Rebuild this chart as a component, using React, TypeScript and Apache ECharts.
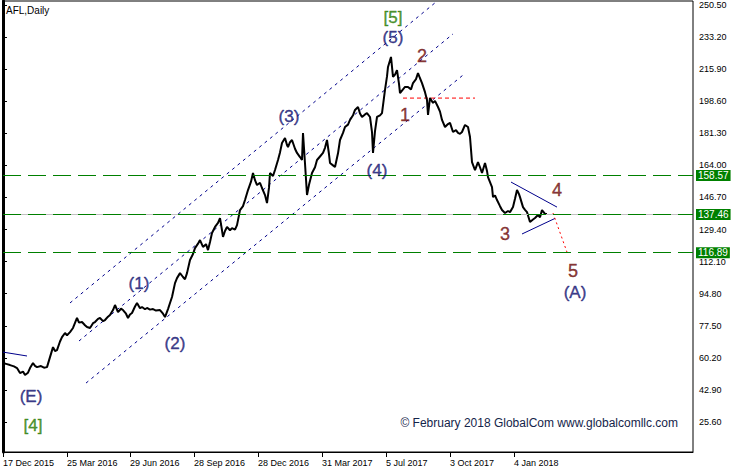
import React, { useEffect, useRef } from "react";
import * as echarts from "echarts";

const chartTitle = "AFL,Daily";
const copyrightText = "© February 2018 GlobalCom www.globalcomllc.com";

// bar index of each date tick (1 bar = 1 trading day)
const dateTickIndex = [0, 64, 127, 191, 255, 319, 383, 447, 511];
const dateTickLabels = [
  "17 Dec 2015",
  "25 Mar 2016",
  "29 Jun 2016",
  "28 Sep 2016",
  "28 Dec 2016",
  "31 Mar 2017",
  "5 Jul 2017",
  "3 Oct 2017",
  "4 Jan 2018",
];
const priceTicks = [250.5, 233.2, 215.9, 198.6, 181.3, 164.0, 146.7, 129.4, 112.1, 94.8, 77.5, 60.2, 42.9, 25.6];

// [bar index, price]
const closePoints: [number, number][] = [
  [0, 57.4], [4, 56.8], [7, 56.3], [11, 55.6], [14, 54.7], [17, 52.0], [20, 52.8], [22, 50.9], [25, 52.2],
  [27, 54.7], [30, 57.4], [32, 55.9], [34, 55.2], [38, 55.8], [41, 54.9], [44, 55.2], [47, 60.6], [50, 66.0],
  [52, 63.9], [54, 64.4], [57, 69.0], [59, 71.4], [62, 73.6], [64, 72.4], [67, 74.1], [70, 76.3], [72, 79.0],
  [74, 81.7], [76, 79.2], [79, 79.5], [82, 77.8], [84, 76.8], [87, 76.3], [90, 78.9], [92, 79.5], [95, 81.2],
  [97, 81.7], [100, 80.0], [102, 80.6], [105, 82.4], [107, 83.3], [110, 86.0], [112, 88.7], [115, 84.9],
  [118, 86.7], [120, 86.0], [123, 84.0], [125, 81.7], [127, 83.6], [129, 84.4], [132, 87.9], [134, 89.8],
  [137, 87.0], [139, 87.6], [142, 86.4], [144, 87.1], [147, 86.2], [150, 86.5], [153, 85.7], [157, 86.0],
  [160, 84.0], [162, 82.2], [165, 86.5], [167, 89.8], [169, 93.0], [172, 100.5], [174, 103.2], [177, 105.9],
  [180, 103.8], [182, 102.6], [184, 105.9], [187, 113.0], [190, 116.2], [192, 119.4], [195, 121.8], [197, 123.7],
  [200, 120.0], [203, 121.5], [205, 118.3], [207, 122.7], [209, 127.5], [212, 130.8], [215, 133.0], [217, 135.6],
  [219, 129.0], [220, 125.4], [222, 128.6], [224, 130.8], [227, 129.0], [229, 130.2], [232, 129.4], [234, 131.8],
  [237, 139.9], [240, 142.0], [242, 145.3], [245, 150.7], [248, 155.2], [250, 159.9], [252, 156.0], [254, 153.4],
  [257, 154.6], [259, 151.8], [262, 148.0], [264, 143.7], [266, 152.0], [267, 159.9], [270, 158.3], [272, 161.5],
  [275, 166.9], [277, 171.0], [279, 176.1], [282, 178.8], [284, 175.0], [285, 173.9], [287, 176.5], [289, 177.7],
  [292, 173.0], [294, 170.7], [297, 168.5], [299, 166.9], [300, 181.5], [302, 165.0], [304, 148.0], [306, 153.5],
  [309, 159.9], [312, 163.0], [314, 166.9], [317, 168.8], [320, 170.7], [322, 173.5], [324, 177.7], [326, 170.0],
  [327, 165.3], [330, 164.0], [332, 163.1], [335, 170.5], [337, 177.7], [340, 181.5], [342, 184.7], [345, 186.0],
  [347, 188.5], [350, 191.0], [352, 193.9], [355, 195.5], [357, 192.0], [359, 190.1], [362, 191.5], [364, 192.2],
  [367, 190.1], [369, 182.0], [370, 170.7], [372, 182.5], [374, 190.1], [377, 191.0], [379, 192.2], [382, 204.7],
  [384, 212.0], [385, 217.1], [388, 222.5], [390, 211.7], [392, 213.0], [394, 215.4], [396, 208.0], [397, 203.0],
  [400, 205.0], [402, 206.3], [405, 206.3], [408, 205.0], [410, 208.4], [413, 210.5], [415, 213.8], [417, 211.0],
  [419, 208.4], [422, 203.5], [424, 199.3], [425, 191.2], [427, 200.4], [430, 197.7], [432, 198.8], [435, 195.5],
  [437, 193.0], [439, 188.5], [442, 184.7], [445, 186.3], [447, 186.9], [450, 182.0], [453, 183.0], [455, 181.5],
  [457, 181.0], [459, 182.0], [462, 185.8], [465, 184.7], [467, 179.3], [469, 165.8], [472, 161.5], [475, 165.8],
  [477, 163.0], [479, 159.9], [482, 165.3], [484, 161.0], [485, 157.7], [487, 155.0], [489, 152.3], [490, 146.9],
  [492, 147.8], [494, 145.3], [497, 142.0], [499, 139.9], [502, 138.3], [505, 139.4], [507, 138.8], [510, 141.5],
  [512, 146.0], [514, 150.7], [516, 148.5], [517, 146.9], [520, 141.5], [522, 140.0], [524, 138.8], [527, 133.5],
  [530, 134.8], [532, 135.6], [535, 137.2], [537, 136.0], [539, 139.9], [542, 137.8], [544, 137.8],
];

const levelPrices = [158.57, 137.46, 116.89];
const bidPrice = 137.46;

// annotation lines, [bar index, price]
const channelTop: [number, number][] = [[67, 89.8], [433, 252.1]];
const channelMid: [number, number][] = [[76, 69.3], [450, 234.9]];
const channelLow: [number, number][] = [[83, 46.6], [460, 212.7]];
const leftTrend: [number, number][] = [[0, 63.3], [24, 61.2]];
const wave1Level: [number, number][] = [[400, 200.3], [472, 200.3]];
const triangleTop: [number, number][] = [[508, 155.0], [554, 141.5]];
const triangleLow: [number, number][] = [[519, 127.0], [552, 135.4]];
const projection: [number, number][] = [[550, 138.3], [565, 115.7]];

// wave labels: [text, bar index, price]
const navyLabels: [string, number, number][] = [
  ["(5)", 390, 233.2], ["(3)", 286, 190.1], ["(4)", 374, 161.5], ["(1)", 136, 100.5],
  ["(2)", 172, 68.2], ["(E)", 28, 39.5], ["(A)", 572, 95.7],
];
const greenLabels: [string, number, number][] = [["[5]", 390, 244.0], ["[4]", 30, 23.9]];
const redLabels: [string, number, number][] = [
  ["1", 402, 191.2], ["2", 419, 223.0], ["3", 502, 127.0], ["4", 554, 150.8], ["5", 570, 106.8],
];

const FONT = "'Liberation Sans', Arial, sans-serif";

export default function App() {
  const ref = useRef<HTMLDivElement>(null);
  useEffect(() => {
    document.body.style.margin = "0";
    const chart = echarts.init(ref.current!, null, { renderer: "svg" });
    const dotted = (data: [number, number][], color: string, dash: number[] | string, width = 1) => ({
      type: "line",
      data,
      showSymbol: false,
      silent: true,
      z: 3,
      lineStyle: { color, width, type: dash },
    });
    const labelSeries = (items: [string, number, number][], color: string, size: number) => ({
      type: "scatter",
      symbolSize: 1,
      itemStyle: { color: "transparent" },
      z: 6,
      data: items.map(([t, x, y]) => ({ name: t, value: [x, y] })),
      label: {
        show: true,
        position: "inside",
        formatter: "{b}",
        color,
        fontSize: size,
        fontFamily: FONT,
        textBorderColor: color,
        textBorderWidth: 0.4,
      },
    });
    chart.setOption({
      animation: false,
      grid: { left: 3, right: 44, top: 1, bottom: 18, show: true, borderColor: "#000", borderWidth: 1 },
      xAxis: {
        type: "value",
        min: 0,
        max: 690,
        splitLine: { show: false },
        axisLine: { show: true, lineStyle: { color: "#000", width: 1 } },
        axisTick: { show: true, length: 5, customValues: dateTickIndex, lineStyle: { color: "#000" } },
        axisLabel: {
          customValues: dateTickIndex,
          formatter: (v: number) => dateTickLabels[dateTickIndex.indexOf(v)] ?? "",
          align: "left",
          color: "#000",
          fontSize: 9,
          fontFamily: FONT,
          margin: 6,
        },
      },
      yAxis: {
        type: "value",
        position: "right",
        min: 9.42,
        max: 252.66,
        splitLine: { show: false },
        axisLine: { show: true, lineStyle: { color: "#000", width: 3 } },
        axisTick: { show: true, length: 4, customValues: priceTicks, lineStyle: { color: "#000" } },
        axisLabel: {
          customValues: priceTicks,
          formatter: (v: number) => v.toFixed(2),
          color: "#000",
          fontSize: 9,
          fontFamily: FONT,
          margin: 6,
        },
      },
      graphic: [
        { type: "text", left: 6, top: 5, style: { text: chartTitle, fontSize: 10, fontFamily: FONT, fill: "#000" } },
        {
          type: "text",
          right: 59,
          top: 417,
          style: { text: copyrightText, fontSize: 12, fontFamily: FONT, fill: "#14244a" },
        },
      ],
      series: [
        {
          type: "line",
          data: [],
          silent: true,
          z: 1,
          markLine: {
            silent: true,
            symbol: "none",
            label: { show: false },
            lineStyle: { color: "#c0c0c0", width: 1, type: "solid" },
            data: [{ yAxis: bidPrice }],
          },
        },
        {
          type: "line",
          data: [],
          silent: true,
          z: 2,
          markLine: {
            silent: true,
            symbol: "none",
            lineStyle: { color: "#008000", width: 1, type: [18, 7] },
            label: {
              show: true,
              position: "end",
              distance: 3,
              formatter: (p: any) => Number(p.value).toFixed(2),
              color: "#fff",
              backgroundColor: "#008000",
              padding: [1, 2, 0, 2],
              fontSize: 10,
              fontFamily: FONT,
            },
            data: levelPrices.map((v) => ({ yAxis: v })),
          },
        },
        dotted(channelTop, "#00008b", [3, 4]),
        dotted(channelMid, "#00008b", [3, 4]),
        dotted(channelLow, "#00008b", [3, 4]),
        dotted(leftTrend, "#00008b", "solid"),
        dotted(triangleTop, "#00008b", "solid"),
        dotted(triangleLow, "#00008b", "solid"),
        dotted(wave1Level, "#ff0000", [4, 3]),
        dotted(projection, "#ff0000", [2, 3]),
        {
          type: "line",
          data: closePoints,
          showSymbol: false,
          silent: true,
          z: 4,
          lineStyle: { color: "#000", width: 2 },
        },
        labelSeries(navyLabels, "#101070", 17),
        labelSeries(greenLabels, "#267a00", 17),
        labelSeries(redLabels, "#6e0a0a", 18),
      ],
    });
    return () => chart.dispose();
  }, []);
  return <div ref={ref} style={{ width: 737, height: 470 }} />;
}
